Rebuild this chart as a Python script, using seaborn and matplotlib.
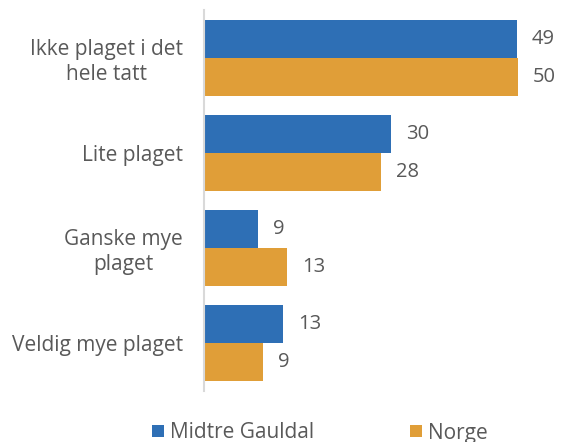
import matplotlib
matplotlib.use("Agg")
import matplotlib.pyplot as plt
from matplotlib.patches import Patch
import pandas as pd
import seaborn as sns

categories = ["Ikke plaget i det\nhele tatt", "Lite plaget", "Ganske mye\nplaget", "Veldig mye plaget"]
series = ["Midtre Gauldal", "Norge"]
midtre_gauldal = [49.4, 29.6, 8.6, 12.6]
norge = [49.6, 28.0, 13.2, 9.4]
colors = ["#2E6FB5", "#E09E38"]

df = pd.DataFrame({
    "Kategori": categories * 2,
    "Serie": [series[0]] * 4 + [series[1]] * 4,
    "Verdi": midtre_gauldal + norge,
})

sns.set_style("white")
plt.rcParams["font.family"] = ["Open Sans", "DejaVu Sans"]
text_col = "#595959"

fig = plt.figure(figsize=(5.61, 4.42), dpi=100)
ax = fig.add_axes([203.5 / 561, 51.5 / 442, 336.5 / 561, 380 / 442])

sns.barplot(data=df, y="Kategori", x="Verdi", hue="Serie", orient="h",
            palette=colors, width=0.8, ax=ax, legend=False, saturation=1)

for cont in ax.containers:
    for bar in cont:
        bar.set_edgecolor("none")
    ax.bar_label(cont, labels=[f"{round(b.get_width()):d}" for b in cont],
                 padding=11, fontsize=14.5, color=text_col)

ax.set_xlim(0, 336.5 / 6.34)
ax.set_ylim(3.5, -0.5)
ax.set_xlabel("")
ax.set_ylabel("")
ax.set_xticks([])
for s in ["top", "right", "bottom"]:
    ax.spines[s].set_visible(False)
ax.spines["left"].set_color("#d9d9d9")
ax.spines["left"].set_linewidth(1.5)
ax.tick_params(axis="y", length=0, pad=14.8, labelsize=15, labelcolor=text_col)
for lab in ax.get_yticklabels():
    lab.set_multialignment("center")

handles = [Patch(facecolor=c, edgecolor="none", label=s) for c, s in zip(colors, series)]
leg = fig.legend(handles=handles, loc="center", bbox_to_anchor=(320 / 561, 9 / 442),
                 ncol=2, frameon=False, fontsize=15, handlelength=0.55, handleheight=0.55,
                 handletextpad=0.3, columnspacing=4.6, borderaxespad=0)
for t in leg.get_texts():
    t.set_color(text_col)

fig.savefig("out.png", dpi=100)
